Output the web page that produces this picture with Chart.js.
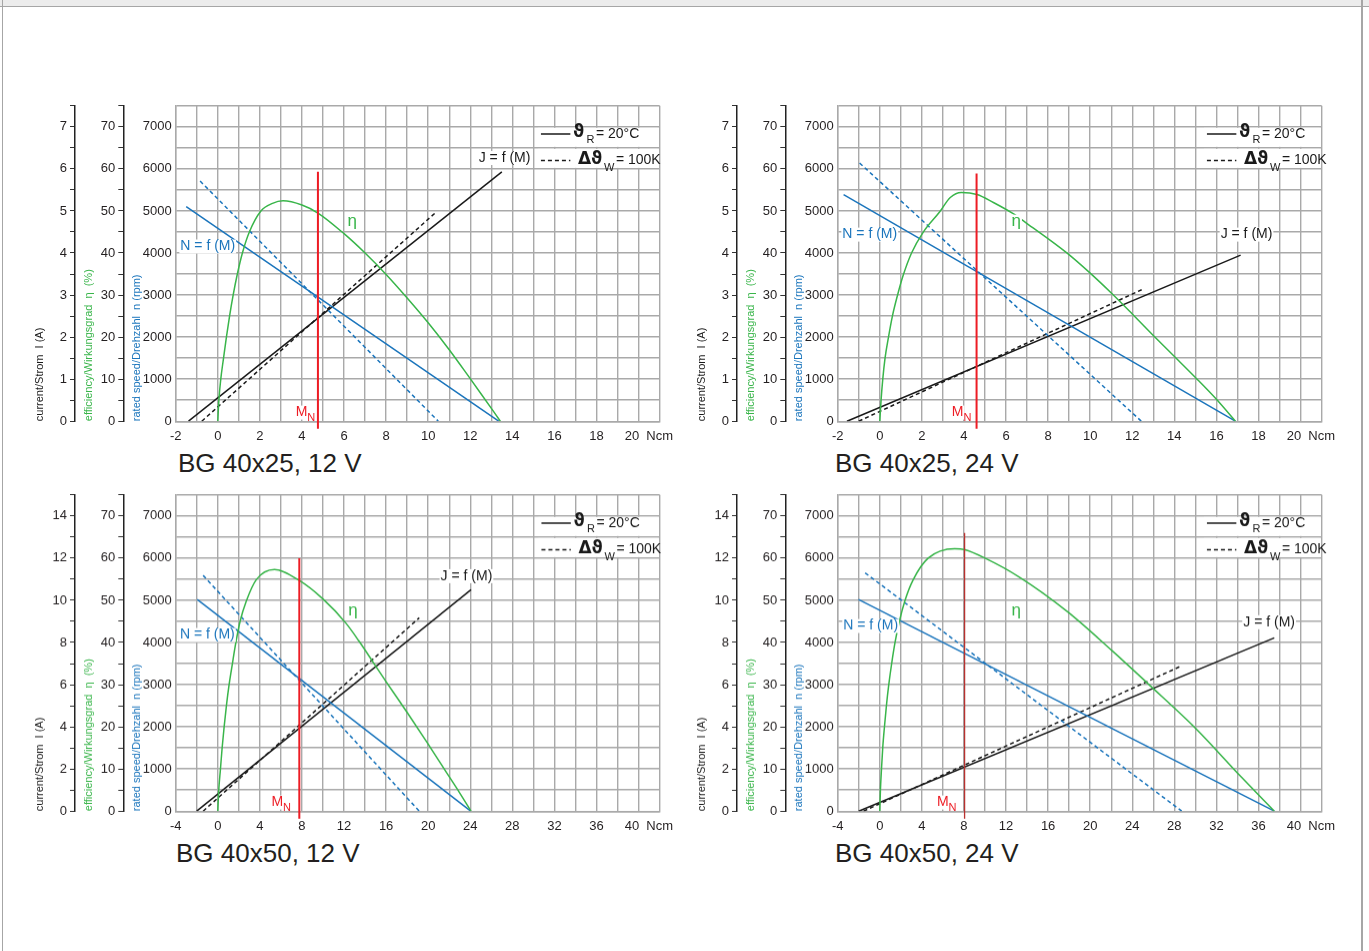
<!DOCTYPE html>
<html>
<head>
<meta charset="utf-8">
<title>BG 40x25 / BG 40x50 characteristic curves</title>
<script src="https://cdn.jsdelivr.net/npm/chart.js@4.4.1/dist/chart.umd.min.js"></script>
<style>
    body {
        margin: 0;
        width: 1369px;
        height: 951px;
        overflow: hidden;
        position: relative;
        background: #fff;
    }
    #band {
        position: absolute; left: 0; top: 0; width: 1369px; height: 6px;
        background: #ececec; border-bottom: 1.5px solid #a6a6a6;
    }
    .side { position: absolute; top: 0; width: 1.5px; height: 951px; background: #a6a6a6; }
    .panel { position: absolute; width: 660px; height: 351.5px; }
    .title {
        position: absolute;
        font: 26px "Liberation Sans", Arial, sans-serif;
        color: #231f20;
        line-height: 30px;
        white-space: nowrap;
    }
</style>
</head>
<body>
<div id="band"></div>
<div class="side" style="left:1.5px"></div>
<div class="side" style="left:1361px"></div>

<div class="panel" style="left:20px;top:93.5px"><canvas id="c1"></canvas></div>
<div class="panel" style="left:681.6px;top:93.5px"><canvas id="c2"></canvas></div>
<div class="panel" style="left:20px;top:483.3px"><canvas id="c3"></canvas></div>
<div class="panel" style="left:681.6px;top:483.3px"><canvas id="c4"></canvas></div>

<div class="title" style="left:178px;top:448px">BG 40x25, 12 V</div>
<div class="title" style="left:835px;top:448px">BG 40x25, 24 V</div>
<div class="title" style="left:176px;top:838px">BG 40x50, 12 V</div>
<div class="title" style="left:835px;top:838px">BG 40x50, 24 V</div>

<script>
// ---- BG 40x25, 12 V ----
const torqueA = [-1.5, 13.35];
const speedA = [5100, 0];
const torqueHotA = [-0.84, 10.48];
const speedHotA = [5710, 0];
const torqueCurA = [-1.39, 13.5];
const currentA = [0, 5.93];
const torqueCurHotA = [-0.76, 10.35];
const currentHotA = [0, 4.96];
const torqueEtaA = [0, 0.05, 0.14, 0.27, 0.41, 0.56, 0.73, 0.93, 1.17, 1.5, 2.05, 2.6, 3.1, 4.0, 4.76, 6, 7, 8, 9, 10, 11, 11.93, 12.5, 13.43];
const etaA = [0, 4.9, 9.9, 14.9, 20, 25, 30, 35, 40, 45, 50, 51.8, 52.4, 51.4, 49.5, 44.6, 40.0, 34.9, 29.3, 23.4, 17.0, 10.6, 6.6, 0];
const ratedA = 4.76;
const ratedSpanA = [5930, -180];

// ---- BG 40x25, 24 V ----
const torqueB = [-1.72, 16.9];
const speedB = [5390, 0];
const torqueHotB = [-0.96, 12.43];
const speedHotB = [6140, 0];
const torqueCurB = [-1.56, 17.15];
const currentB = [0, 3.95];
const torqueCurHotB = [-1.0, 12.46];
const currentHotB = [0, 3.13];
const torqueEtaB = [0, 0.06, 0.14, 0.25, 0.41, 0.6, 0.84, 1.12, 1.51, 2.06, 2.85, 3.35, 3.88, 4.62, 5.4, 6.32, 7, 8.92, 10, 11.04, 12, 13, 14.04, 15, 16, 16.9];
const etaB = [0, 4.9, 9.9, 15, 19.9, 25, 29.9, 34.8, 40, 44.9, 49.8, 53.2, 54.4, 53.9, 52.0, 49.4, 47, 39.9, 35.2, 30.3, 25.5, 20.4, 15.2, 10.4, 5.2, 0];
const ratedB = 4.6;
const ratedSpanB = [5890, -180];

// ---- BG 40x50, 12 V ----
const torqueC = [-1.95, 24.04];
const speedC = [5020, 0];
const torqueHotC = [-1.39, 19.15];
const speedHotC = [5590, 0];
const torqueCurC = [-2.0, 24.07];
const currentC = [0, 10.5];
const torqueCurHotC = [-1.39, 19.15];
const currentHotC = [0, 9.17];
const torqueEtaC = [0, 0.09, 0.25, 0.41, 0.6, 0.82, 1.07, 1.39, 1.72, 2.12, 2.71, 3.66, 5.39, 7.75, 10, 12.17, 13.4, 14.9, 16, 18, 20, 21.6, 23, 24.07];
const etaC = [0, 4.9, 9.9, 14.9, 19.9, 25, 29.9, 35, 40, 45, 49.8, 54.9, 57.3, 54.7, 50.3, 44.6, 40.4, 34.8, 30.7, 23.4, 15.9, 9.7, 4.3, 0];
const ratedC = 7.75;
const ratedSpanC = [6000, -180];

// ---- BG 40x50, 24 V ----
const torqueD = [-2.02, 37.5];
const speedD = [5020, 0];
const torqueHotD = [-1.39, 28.7];
const speedHotD = [5650, 0];
const torqueCurD = [-2.0, 37.5];
const currentD = [0, 8.22];
const torqueCurHotD = [-1.54, 28.5];
const currentHotD = [0, 6.85];
const torqueEtaD = [0, 0.06, 0.16, 0.28, 0.44, 0.63, 0.85, 1.13, 1.45, 1.86, 2.4, 3.18, 4.6, 7.12, 8.1, 10, 13.27, 18.0, 22.1, 25.55, 29.96, 34.4, 37.5];
const etaD = [0, 4.9, 9.9, 15, 19.9, 25, 29.9, 35, 40, 45, 50, 54.9, 60, 62.25, 62.0, 60.0, 55.5, 47.0, 38.0, 30.1, 19.8, 8.0, 0];
const ratedD = 8.06;
const ratedSpanD = [6600, -180];

const BLUE = "#1b75bc";
const GREEN = "#39b54a";
const RED = "#ed1c24";
const BLACK = "#1a1a1a";
const GRID = "#a9a9a9";
const SANS = "'Liberation Sans', Arial, sans-serif";
const GREEK = "'DejaVu Sans', sans-serif";

Chart.defaults.font.family = SANS;

function pts(xs, ys) {
    return xs.map((x, i) => ({ x: x, y: ys[i] }));
}

function textBox(ctx, text, x, y, font, color) {
    ctx.font = font;
    const w = ctx.measureText(text).width;
    ctx.fillStyle = "#fff";
    ctx.fillRect(x - 1, y - 7, w + 2, 14);
    ctx.fillStyle = color;
    ctx.fillText(text, x, y);
    return w;
}

// legend, curve names and M_N mark
function textPlugin(p) {
    return {
        id: "panelText",
        afterDatasetsDraw(chart) {
            const { ctx, chartArea } = chart;
            const xs = chart.scales.x;
            const ys = chart.scales.yN;
            ctx.save();
            ctx.textBaseline = "middle";
            ctx.textAlign = "left";

            // legend
            const L = chartArea.right - p.legendOffset;
            const g1 = ys.getPixelForValue(7000);
            const g2 = ys.getPixelForValue(6500);
            const g3 = ys.getPixelForValue(6000);
            ctx.fillStyle = "#fff";
            ctx.fillRect(L - 3, g1 + 1, chartArea.right - L + 1, g2 - g1 - 2);
            ctx.fillRect(L - 3, g2 + 1, chartArea.right - L + 1, g3 - g2 - 2);
            const r1 = chartArea.top + 28.2;
            const r2 = chartArea.top + 54.8;
            ctx.strokeStyle = BLACK;
            ctx.lineWidth = 1.5;
            ctx.beginPath();
            ctx.moveTo(L, r1);
            ctx.lineTo(L + 29.4, r1);
            ctx.stroke();
            ctx.setLineDash([4, 3]);
            ctx.beginPath();
            ctx.moveTo(L, r2);
            ctx.lineTo(L + 29.4, r2);
            ctx.stroke();
            ctx.setLineDash([]);
            ctx.fillStyle = BLACK;
            ctx.font = "bold 17px " + GREEK;
            ctx.fillText("\u03D1", L + 32, r1 - 1.5);
            ctx.fillText("\u0394\u03D1", L + 37, r2 - 1.5);
            ctx.font = "11px " + SANS;
            ctx.fillText("R", L + 45.5, r1 + 6);
            ctx.fillText("W", L + 63, r2 + 7);
            ctx.font = "14px " + SANS;
            ctx.fillText("= 20\u00B0C", L + 55, r1);
            ctx.fillText("= 100K", L + 75, r2);

            // curve names
            p.notes.forEach(n => {
                textBox(ctx, n.text, xs.getPixelForValue(n.x), ys.getPixelForValue(n.y), n.font, n.color);
            });

            // rated torque label
            const mx = xs.getPixelForValue(p.mnLabel[0]);
            const my = ys.getPixelForValue(p.mnLabel[1]);
            const mw = textBox(ctx, "M", mx, my, "14px " + SANS, RED);
            ctx.font = "11px " + SANS;
            ctx.fillText("N", mx + mw, my + 5);

            ctx.restore();
        }
    };
}

function leftAxis(max, step, labelStep, weight, width, title, color, pad) {
    return {
        type: "linear",
        position: "left",
        min: 0,
        max: max,
        weight: weight,
        ticks: {
            stepSize: step,
            autoSkip: false,
            color: "#231f20",
            padding: 3,
            font: { size: 13 },
            callback: v => (Math.abs(v % labelStep) < 1e-9 && v < max) ? String(v) : ""
        },
        grid: { drawOnChartArea: false, drawTicks: true, tickLength: 5, color: "#333", lineWidth: 1 },
        border: { display: true, color: "#222", width: 1.5 },
        title: {
            display: true,
            text: title,
            color: color,
            align: "start",
            font: { size: 11 },
            padding: { top: pad, bottom: 0 }
        },
        afterFit: s => { s.width = width; }
    };
}

function makePanel(id, p) {
    const base = { pointRadius: 0, borderWidth: 1.5, fill: false, tension: 0 };

    new Chart(document.getElementById(id), {
        type: "line",
        data: {
            datasets: [
                {
                    ...base,
                    data: pts([p.rated, p.rated], p.ratedSpan),
                    yAxisID: "yN",
                    borderColor: p.redColor,
                    borderWidth: p.redWidth,
                    clip: false
                },
                {
                    ...base,
                    data: pts(p.etaX, p.eta),
                    yAxisID: "yE",
                    borderColor: GREEN,
                    cubicInterpolationMode: "monotone"
                },
                { ...base, data: pts(p.nX, p.n), yAxisID: "yN", borderColor: BLUE },
                { ...base, data: pts(p.nHotX, p.nHot), yAxisID: "yN", borderColor: BLUE, borderDash: [4, 3] },
                { ...base, data: pts(p.iX, p.i), yAxisID: "yI", borderColor: BLACK },
                { ...base, data: pts(p.iHotX, p.iHot), yAxisID: "yI", borderColor: BLACK, borderDash: [4, 3] }
            ]
        },
        options: {
            responsive: true,
            maintainAspectRatio: false,
            animation: false,
            events: [],
            layout: { padding: { left: 0, top: 10, right: 18, bottom: 0 } },
            plugins: {
                legend: { display: false },
                tooltip: { enabled: false },
                title: { display: false }
            },
            scales: {
                x: {
                    type: "linear",
                    min: p.xMin,
                    max: p.xMax,
                    ticks: {
                        stepSize: p.xStep,
                        autoSkip: false,
                        maxRotation: 0,
                        padding: 7,
                        color: "#231f20",
                        font: { size: 13 },
                        callback: v => {
                            if (v === p.xMax) return "Ncm";
                            if (v % p.xLabelStep !== 0) return "";
                            // last number sits a little left of its grid line
                            return v === p.xMax - p.xStep ? v + "\u2003" : String(v);
                        }
                    },
                    grid: { color: GRID, lineWidth: 1.4, drawTicks: false },
                    border: { color: GRID, width: 1.4 },
                    afterFit: s => { s.height = 24.3; }
                },
                yN: {
                    type: "linear",
                    position: "left",
                    min: 0,
                    max: 7500,
                    weight: 0,
                    ticks: {
                        stepSize: 500,
                        autoSkip: false,
                        padding: 4,
                        color: "#231f20",
                        font: { size: 13 },
                        callback: v => (v % 1000 === 0) ? String(v) : ""
                    },
                    grid: { color: GRID, lineWidth: 1.4, drawTicks: false },
                    border: { color: GRID, width: 1.4 },
                    title: {
                        display: true,
                        text: "rated speed/Drehzahl  n (rpm)",
                        color: BLUE,
                        align: "start",
                        font: { size: 11 },
                        padding: { top: 6.6, bottom: 0 }
                    },
                    afterFit: s => { s.width = 52.4; }
                },
                yE: leftAxis(75, 5, 10, 1, 48.3, "efficiency/Wirkungsgrad  \u03B7  (%)", GREEN, 7.2),
                yI: leftAxis(p.iMax, p.iMax / 15, p.iMax / 7.5, 2, 55, "current/Strom  I (A)", BLACK, 13.2)
            }
        },
        plugins: [textPlugin(p)]
    });
}

const nameFont = "14px " + SANS;
const etaFont = "17px " + SANS;

makePanel("c1", {
    xMin: -2, xMax: 21, xStep: 1, xLabelStep: 2, iMax: 7.5,
    nX: torqueA, n: speedA, nHotX: torqueHotA, nHot: speedHotA,
    iX: torqueCurA, i: currentA, iHotX: torqueCurHotA, iHot: currentHotA,
    etaX: torqueEtaA, eta: etaA,
    rated: ratedA, ratedSpan: ratedSpanA, redColor: RED, redWidth: 2,
    legendOffset: 118.7,
    mnLabel: [3.7, 205],
    notes: [
        { text: "N = f (M)", x: -1.78, y: 4154, font: nameFont, color: BLUE },
        { text: "J = f (M)", x: 12.4, y: 6258, font: nameFont, color: BLACK },
        { text: "\u03B7", x: 6.16, y: 4745, font: etaFont, color: GREEN }
    ]
});

makePanel("c2", {
    xMin: -2, xMax: 21, xStep: 1, xLabelStep: 2, iMax: 7.5,
    nX: torqueB, n: speedB, nHotX: torqueHotB, nHot: speedHotB,
    iX: torqueCurB, i: currentB, iHotX: torqueCurHotB, iHot: currentHotB,
    etaX: torqueEtaB, eta: etaB,
    rated: ratedB, ratedSpan: ratedSpanB, redColor: RED, redWidth: 2,
    legendOffset: 114.7,
    mnLabel: [3.42, 205],
    notes: [
        { text: "N = f (M)", x: -1.78, y: 4437, font: nameFont, color: BLUE },
        { text: "J = f (M)", x: 16.2, y: 4437, font: nameFont, color: BLACK },
        { text: "\u03B7", x: 6.26, y: 4745, font: etaFont, color: GREEN }
    ]
});

makePanel("c3", {
    xMin: -4, xMax: 42, xStep: 2, xLabelStep: 4, iMax: 15,
    nX: torqueC, n: speedC, nHotX: torqueHotC, nHot: speedHotC,
    iX: torqueCurC, i: currentC, iHotX: torqueCurHotC, iHot: currentHotC,
    etaX: torqueEtaC, eta: etaC,
    rated: ratedC, ratedSpan: ratedSpanC, redColor: RED, redWidth: 2,
    legendOffset: 118.2,
    mnLabel: [5.1, 205],
    notes: [
        { text: "N = f (M)", x: -3.6, y: 4177, font: nameFont, color: BLUE },
        { text: "J = f (M)", x: 21.18, y: 5572, font: nameFont, color: BLACK },
        { text: "\u03B7", x: 12.39, y: 4745, font: etaFont, color: GREEN }
    ]
});

makePanel("c4", {
    xMin: -4, xMax: 42, xStep: 2, xLabelStep: 4, iMax: 15,
    nX: torqueD, n: speedD, nHotX: torqueHotD, nHot: speedHotD,
    iX: torqueCurD, i: currentD, iHotX: torqueCurHotD, iHot: currentHotD,
    etaX: torqueEtaD, eta: etaD,
    rated: ratedD, ratedSpan: ratedSpanD, redColor: "#b8312f", redWidth: 1.3,
    legendOffset: 114.7,
    mnLabel: [5.43, 205],
    notes: [
        { text: "N = f (M)", x: -3.47, y: 4390, font: nameFont, color: BLUE },
        { text: "J = f (M)", x: 34.55, y: 4480, font: nameFont, color: BLACK },
        { text: "\u03B7", x: 12.52, y: 4745, font: etaFont, color: GREEN }
    ]
});
</script>
</body>
</html>
